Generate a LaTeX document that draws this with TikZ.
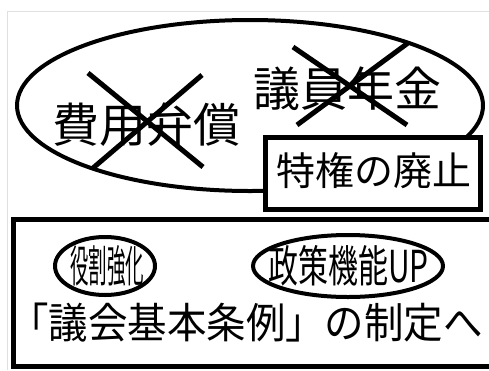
\documentclass[tikz,border=0pt]{standalone}
\usepackage{fontspec}
\newfontfamily\jpfont{Noto Sans CJK JP}
\usetikzlibrary{shapes.geometric}
\begin{document}
\begin{tikzpicture}[x=1pt,y=-1pt,
  oval/.style={draw,ellipse,line width=4pt,inner sep=0pt},
  frame/.style={draw,rectangle,line width=5pt,inner sep=0pt},
  cross/.style={line width=5pt},
  jp/.style={inner sep=0pt,font=\jpfont\fontsize{#1}{#1}\selectfont}]
\useasboundingbox (0,0) rectangle (489,370);
\draw[black!12,line width=1pt] (7,370) -- (7,11) -- (489,11);
\node[oval,minimum width=466,minimum height=171] (tokken) at (250,105.5) {};
\node[jp=47] (hiyou) at (146,125) {費用弁償};
\draw[cross] (88,73) -- (203,167);
\draw[cross] (202,75) -- (93,168);
\node[jp=47] (nenkin) at (347.5,88.5) {議員年金};
\draw[cross] (293,47) -- (407,125);
\draw[cross] (408,43) -- (297,125);
\node[frame,fill=white,minimum width=215,minimum height=72] (haishibox) at (372.5,173.5) {};
\node[jp=39] (haishi) at (373.5,171) {特権の廃止};
\node[frame,minimum width=482.5,minimum height=146.5] (joureibox) at (254.75,292.75) {};
\node[oval,minimum width=100,minimum height=58] (yakuwari) at (105,266) {};
\node[jp=44] (kyouka) at (107,266) {\scalebox{0.42}[1]{役割強化}};
\node[oval,minimum width=190,minimum height=62] (seisaku) at (348,266) {};
\node[jp=44] (kinou) at (348.5,266) {\scalebox{0.68}[1]{政策機能UP}};
\node[jp=42] (jourei) at (246,322.5) {\scalebox{0.94}[1]{「議会基本条例」の制定へ}};
\end{tikzpicture}
\end{document}
